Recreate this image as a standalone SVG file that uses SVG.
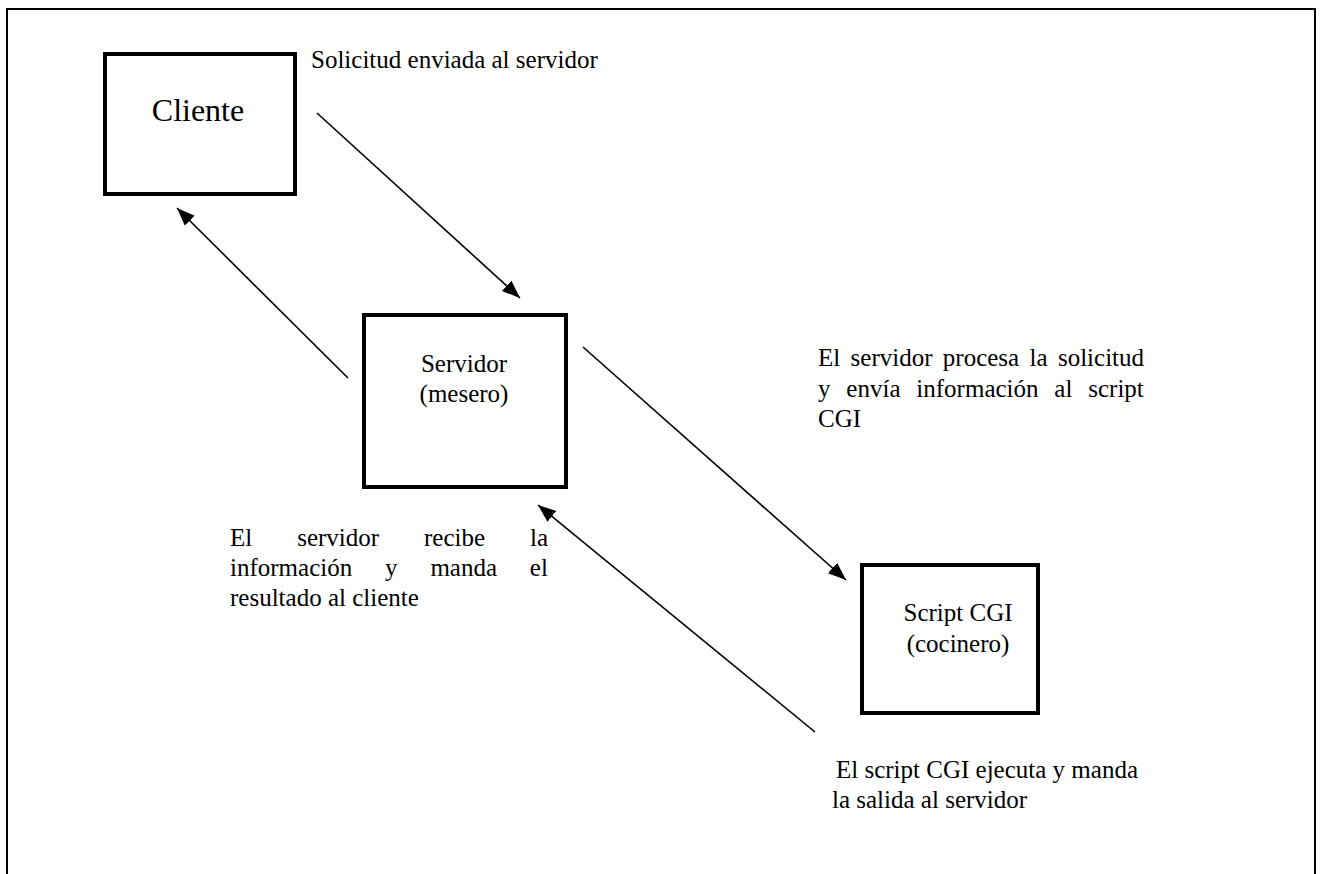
<svg xmlns="http://www.w3.org/2000/svg" width="1322" height="874" viewBox="0 0 1322 874">
<style>
text{font-family:"Liberation Serif","Times New Roman",serif;fill:#000}
.t{font-size:25px}
.box{fill:#fff;stroke:#000;stroke-width:4}
.ln{stroke:#000;stroke-width:1.6;fill:none}
</style>
<defs>
<marker id="ah" markerUnits="userSpaceOnUse" markerWidth="20" markerHeight="16" refX="18" refY="7" orient="auto">
<path d="M0,0 L18,7 L0,14 Z" fill="#000"/>
</marker>
</defs>
<rect width="1322" height="874" fill="#fff"/>
<path d="M7,874 V9 H1315 V874" fill="none" stroke="#000" stroke-width="2"/>
<g id="cliente">
<rect class="box" x="105" y="54" width="190" height="140"/>
<text x="198" y="121" font-size="32" text-anchor="middle">Cliente</text>
</g>
<g id="servidor">
<rect class="box" x="364" y="315" width="202" height="172"/>
<text class="t" x="464" y="372" text-anchor="middle">Servidor</text>
<text class="t" x="464" y="402" text-anchor="middle">(mesero)</text>
</g>
<g id="script">
<rect class="box" x="862" y="565" width="176" height="148"/>
<text class="t" x="958" y="621" text-anchor="middle">Script CGI</text>
<text class="t" x="958" y="652" text-anchor="middle">(cocinero)</text>
</g>
<g id="connectors">
<line class="ln" x1="317" y1="113" x2="520" y2="298" marker-end="url(#ah)"/>
<line class="ln" x1="348" y1="378" x2="177" y2="208" marker-end="url(#ah)"/>
<line class="ln" x1="583" y1="347" x2="846" y2="580" marker-end="url(#ah)"/>
<line class="ln" x1="815" y1="732" x2="538" y2="505" marker-end="url(#ah)"/>
</g>
<g id="labels">
<text class="t" x="311" y="68">Solicitud enviada al servidor</text>
<text class="t" x="818" y="366" word-spacing="4.1">El servidor procesa la solicitud</text>
<text class="t" x="818" y="397" word-spacing="9.6">y envía información al script</text>
<text class="t" x="818" y="427">CGI</text>
<text class="t" x="230" y="546" word-spacing="38.7">El servidor recibe la</text>
<text class="t" x="230" y="576" word-spacing="26.6">información y manda el</text>
<text class="t" x="230" y="606">resultado al cliente</text>
<text class="t" x="836" y="778">El script CGI ejecuta y manda</text>
<text class="t" x="832" y="808">la salida al servidor</text>
</g>
</svg>
